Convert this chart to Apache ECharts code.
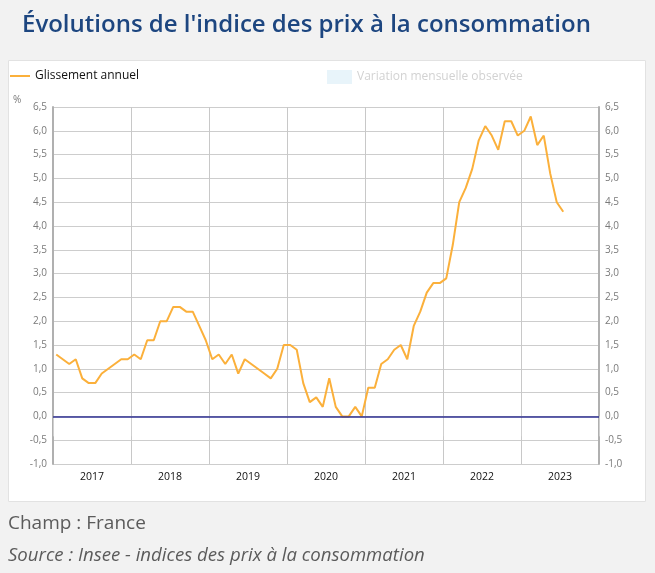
<!DOCTYPE html>
<html><head><meta charset="utf-8">
<script src="https://cdn.jsdelivr.net/npm/echarts@6/dist/echarts.min.js"></script>
<style>html,body{margin:0;padding:0;background:#f2f2f2;}#c{width:655px;height:573px;}</style>
</head><body><div id="c"></div>
<script>
const years = ['2017','2018','2019','2020','2021','2022','2023'];
const yTicks = [-1.0,-0.5,0,0.5,1.0,1.5,2.0,2.5,3.0,3.5,4.0,4.5,5.0,5.5,6.0,6.5];
const values2017 = [1.3,1.2,1.1,1.2,0.8,0.7,0.7,0.9,1.0,1.1,1.2,1.2];
const values2018 = [1.3,1.2,1.6,1.6,2.0,2.0,2.3,2.3,2.2,2.2,1.9,1.6];
const values2019 = [1.2,1.3,1.1,1.3,0.9,1.2,1.1,1.0,0.9,0.8,1.0,1.5];
const values2020 = [1.5,1.4,0.7,0.3,0.4,0.2,0.8,0.2,0.0,0.0,0.2,0.0];
const values2021 = [0.6,0.6,1.1,1.2,1.4,1.5,1.2,1.9,2.2,2.6,2.8,2.8];
const values2022 = [2.9,3.6,4.5,4.8,5.2,5.8,6.1,5.9,5.6,6.2,6.2,5.9];
const values2023 = [6.0,6.3,5.7,5.9,5.1,4.5,4.3];
const months = [];
years.forEach(y => { for (let m = 1; m <= 12; m++) months.push(y + '-' + String(m).padStart(2,'0')); });
const glissement = [].concat(values2017,values2018,values2019,values2020,values2021,values2022,values2023);

const fmt = v => (Math.round(v*10)/10).toFixed(1).replace('.', ',');
const chart = echarts.init(document.getElementById('c'));
const yAx = (pos) => ({
  type:'value', position:pos, min:yTicks[0], max:yTicks[yTicks.length-1], interval:0.5,
  axisLine:{show:true, lineStyle:{color:'#b0b0b0', width:2}},
  axisTick:{show:false},
  axisLabel:{color:'#7a7a7a', fontSize:10, fontFamily:'Open Sans', margin:6, formatter:fmt},
  splitLine:{show:pos==='left', lineStyle:{color:'#cdcdcd', width:1}}
});
chart.setOption({
  animation:false,
  textStyle:{fontFamily:'Open Sans'},
  graphic:[
    {type:'rect', z:-10, shape:{x:8.5,y:60.5,width:637,height:441}, style:{fill:'#ffffff', stroke:'#e2e2e2', lineWidth:1}},
    {type:'text', left:22, top:13, style:{text:"Évolutions de l'indice des prix à la consommation", fill:'#1d4680', font:'600 24px "Open Sans"'}},
    {type:'text', left:8, top:514, style:{text:'Champ : France', fill:'#5b5b5b', font:'19px "Open Sans"'}},
    {type:'text', left:8, top:546, style:{text:'Source : Insee - indices des prix à la consommation', fill:'#5b5b5b', font:'italic 18.6px "Open Sans"'}},
    {type:'text', left:13, top:95, style:{text:'%', fill:'#7a7a7a', font:'10px "Open Sans"'}}
  ],
  legend:[
    {left:5, top:65, icon:'rect', itemWidth:20, itemHeight:2, data:[{name:'Glissement annuel', itemStyle:{color:'#fbb03b'}}],
     textStyle:{color:'#111', fontSize:12, fontFamily:'Open Sans'}},
    {left:322, top:65, itemWidth:25, itemHeight:14, icon:'rect',
     data:[{name:'Variation mensuelle observée', itemStyle:{color:'#e8f4fa'}, textStyle:{color:'#d2d2d2'}}],
     textStyle:{color:'#d2d2d2', fontSize:12, fontFamily:'Open Sans'}}
  ],
  grid:{left:53, right:56, top:107, bottom:109},
  xAxis:[
    {type:'category', data:months, boundaryGap:true, show:false},
    {type:'category', data:years, boundaryGap:true, position:'bottom',
     axisLine:{show:false},
     axisTick:{show:true, length:20, lineStyle:{color:'#cfcfcf'}},
     axisLabel:{color:'#111', fontSize:10.5, margin:8, fontFamily:'Open Sans'},
     splitLine:{show:true, lineStyle:{color:'#c8c8c8'}}}
  ],
  yAxis:[yAx('left'), yAx('right')],
  series:[
    {name:'Glissement annuel', type:'line', xAxisIndex:0, yAxisIndex:0, data:glissement,
     symbol:'none', lineStyle:{color:'#fbb03b', width:2}, itemStyle:{color:'#fbb03b'},
     markLine:{silent:true, symbol:'none', label:{show:false}, data:[{yAxis:0}],
       lineStyle:{color:'#2c2e91', width:1.5, type:'solid'}}},
    {name:'Variation mensuelle observée', type:'bar', xAxisIndex:0, yAxisIndex:0, data:[], itemStyle:{color:'#e8f4fa'}}
  ]
});
</script></body></html>
